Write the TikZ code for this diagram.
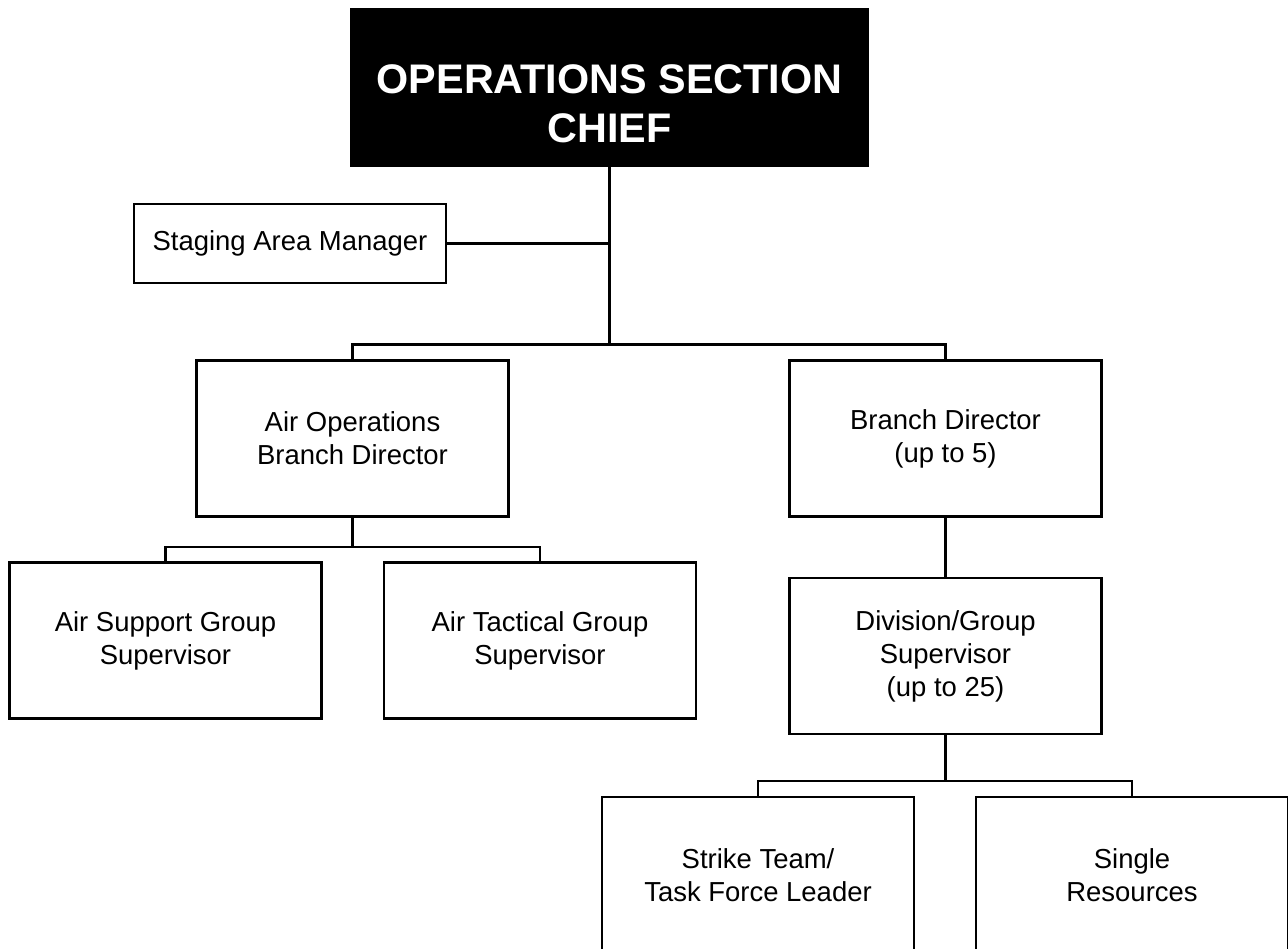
\documentclass[tikz,border=0pt]{standalone}
\usepackage{fontspec}
\setmainfont{Liberation Sans}
\tikzset{
  orgbox/.style={draw=black, fill=white, line width=1.6pt, minimum width=234pt, minimum height=117pt,
    inner sep=0pt, align=center, font=\fontsize{20.6pt}{24.75pt}\selectfont},
  conn/.style={line width=1.6pt}
}
\begin{document}
\begin{tikzpicture}[x=0.75pt, y=-0.75pt]
\useasboundingbox (0,0) rectangle (1288,949);
\clip (0,0) rectangle (1288,949);
% top box
\node[fill=black, draw=black, line width=1.6pt, minimum width=387pt, minimum height=117.75pt, inner sep=0pt] (chief) at (609.5,87.5) {};
\node[text=white, font=\bfseries\fontsize{31pt}{37pt}\selectfont, align=center, inner sep=0pt] (chieftext) at (609.5,104) {OPERATIONS SECTION\\CHIEF};
% staging
\node[orgbox, minimum height=59.25pt] (staging) at (290,243.5) {Staging Area Manager};
% second level
\node[orgbox] (airops) at (352.5,438.5) {Air Operations\\Branch Director};
\node[orgbox] (branch) at (945.5,438.5) {Branch Director\\(up to 5)};
% third level
\node[orgbox] (airsup) at (165.5,640.5) {Air Support Group\\Supervisor};
\node[orgbox] (airtac) at (540,640.5) {Air Tactical Group\\Supervisor};
\node[orgbox] (division) at (945.5,656) {Division/Group\\Supervisor\\(up to 25)};
% bottom
\node[orgbox, minimum height=118pt] (strike) at (758,875.5) {Strike Team/\\Task Force Leader};
\node[orgbox, minimum height=118pt] (single) at (1132,875.5) {Single\\Resources};
% junctions
\coordinate (j1) at (chief.south |- 0,344.5);
\coordinate (j2) at (airops.south |- 0,547);
\coordinate (j3) at (division.south |- 0,781);
% connectors
\draw[conn] (chief.south) -- (j1);
\draw[conn] (staging.east) -- (chief.south |- staging.east);
\draw[conn] (airops.north) |- (j1) -| (branch.north);
\draw[conn] (airops.south) -- (j2);
\draw[conn] (airsup.north) |- (j2) -| (airtac.north);
\draw[conn] (branch.south) -- (division.north);
\draw[conn] (division.south) -- (j3);
\draw[conn] (strike.north) |- (j3) -| (single.north);
\end{tikzpicture}
\end{document}
